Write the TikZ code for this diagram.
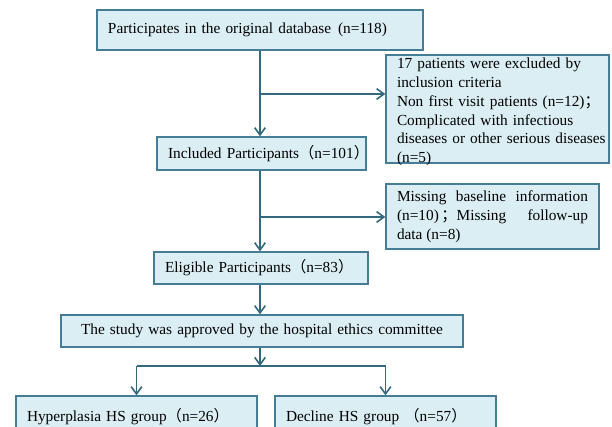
\documentclass[tikz,border=0pt]{standalone}
\usepackage{fontspec}
\setmainfont{Liberation Serif}
\newfontfamily\cjk{Noto Sans CJK SC}
\usetikzlibrary{arrows.meta}
\definecolor{boxfill}{RGB}{219,238,244}
\definecolor{boxline}{RGB}{70,125,150}
\definecolor{arrline}{RGB}{50,105,125}
\newcommand{\lpar}{{\cjk （}}
\newcommand{\rpar}{{\cjk ）}}
\newcommand{\fsemi}{{\cjk ；}}
\begin{document}
\begin{tikzpicture}[x=0.75pt, y=-0.75pt,
  box/.style={draw=boxline, fill=boxfill, line width=1pt, inner xsep=8.25pt, inner ysep=0pt,
    align=left, font=\fontsize{11.5}{14.1}\selectfont},
  ln/.style={draw=arrline, line width=1.2pt},
  arr/.style={ln, -{Straight Barb[length=5.5pt,width=8pt,line width=1.2pt]}}]
\useasboundingbox (0,0) rectangle (612,426);
\clip (0,0) rectangle (612,426);

\node[box, minimum width=244.5pt, minimum height=30pt, text width=228pt] (b1) at (260,30)
  {\mbox{Participates in the original database\hspace{0.45em}(n=118)}};
\node[box, minimum width=167.25pt, minimum height=81pt, text width=150.75pt, inner ysep=-2.5pt] (ex1) at (497.5,109)
  {\rule{0pt}{12.5pt}17 patients were excluded by\\ inclusion criteria\\ \mbox{Non first visit patients (n=12)\fsemi}\\ Complicated with infectious\\ \mbox{diseases or other serious diseases}\\ (n=5)};
\node[box, minimum width=156.75pt, minimum height=24.75pt, text width=140.25pt] (inc) at (261.5,153.5)
  {\mbox{Included Participants\lpar n=101\rpar}};
\node[box, minimum width=159.75pt, minimum height=48.75pt, text width=143.25pt, align=justify] (ex2) at (492.5,216.5)
  {Missing baseline information\linebreak (n=10)\,\fsemi Missing follow-up\linebreak data (n=8)};
\node[box, minimum width=160.5pt, minimum height=24pt, text width=144pt] (elig) at (261,268)
  {\mbox{Eligible Participants\lpar n=83\rpar}};
\node[box, minimum width=301.5pt, minimum height=24pt, text width=285pt, align=center] (eth) at (262,331)
  {The study was approved by the hospital ethics committee};
\node[box, minimum width=180.75pt, minimum height=31.5pt, text width=164.25pt] (hyp) at (136.5,417)
  {\mbox{Hyperplasia HS group\lpar n=26\rpar}};
\node[box, minimum width=165.75pt, minimum height=31.5pt, text width=149.25pt] (dec) at (385.5,417)
  {\mbox{Decline HS group \lpar n=57\rpar}};

\coordinate (j1) at (260,94);
\coordinate (j2) at (260,217);
\coordinate (split) at (260,366);

\draw[arr] (b1.south) -- (b1.south |- inc.north);
\draw[arr] (j1) -- (j1 -| ex1.west);
\draw[arr] (b1.south |- inc.south) -- (b1.south |- elig.north);
\draw[arr] (j2) -- (j2 -| ex2.west);
\draw[arr] (b1.south |- elig.south) -- (b1.south |- eth.north);
\draw[arr] (b1.south |- eth.south) -- (split);
\draw[ln] (split -| hyp.north) -- (split -| dec.north);
\draw[arr] (split -| hyp.north) -- (hyp.north);
\draw[arr] (split -| dec.north) -- (dec.north);
\end{tikzpicture}
\end{document}
